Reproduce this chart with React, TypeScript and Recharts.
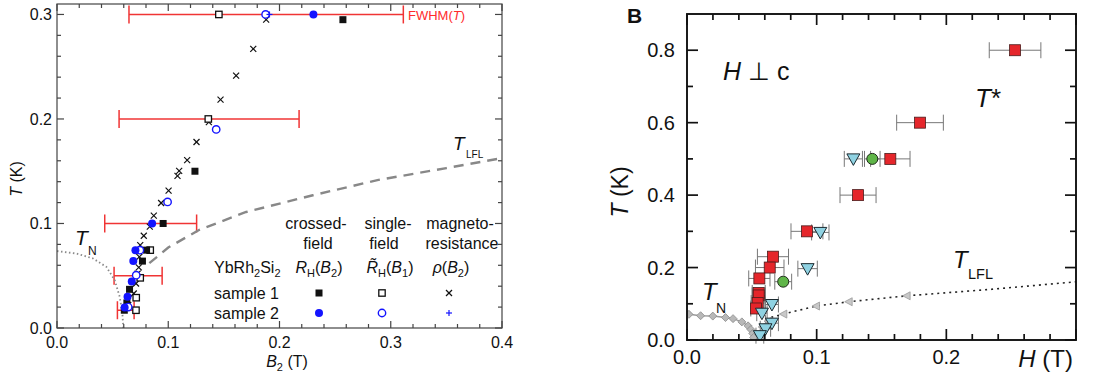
import React from "react";
import { ScatterChart, Scatter, XAxis, YAxis, ErrorBar } from "recharts";

const FONT = "'Liberation Sans', Arial, Helvetica, sans-serif";

// ---- panel A : [B2 (T), T (K)] ----
const rhB2Sample1 = [
  [0.257, 0.295], [0.124, 0.15], [0.0954, 0.1], [0.0805, 0.0745], [0.0768, 0.064],
  [0.0652, 0.037], [0.0628, 0.024], [0.0605, 0.017],
];
const rhB1Sample1 = [
  [0.1455, 0.3], [0.136, 0.2], [0.0838, 0.0745], [0.0748, 0.048], [0.0712, 0.029], [0.071, 0.017],
];
const rhoSample1 = [
  [0.188, 0.295], [0.1764, 0.267], [0.161, 0.2415], [0.147, 0.2185], [0.1365, 0.197],
  [0.1254, 0.178], [0.117, 0.1606], [0.1098, 0.1503], [0.1083, 0.1455], [0.1003, 0.1315],
  [0.0936, 0.1196], [0.087, 0.1075], [0.0834, 0.097], [0.078, 0.0883], [0.0748, 0.0793],
  [0.074, 0.068], [0.0735, 0.058], [0.0725, 0.052], [0.071, 0.0426], [0.069, 0.033], [0.064, 0.022],
];
const rhB2Sample2 = [
  [0.2305, 0.3], [0.0855, 0.1], [0.0705, 0.0745], [0.0686, 0.064], [0.0672, 0.0445],
  [0.0634, 0.03], [0.0608, 0.0195],
];
const rhB1Sample2 = [
  [0.1875, 0.3], [0.1431, 0.19], [0.0994, 0.1206], [0.0745, 0.0745], [0.0712, 0.0505], [0.064, 0.02],
];
const rhoSample2 = [[0.191, 0.3]];
// [centre, T, half width]
const fwhm = [
  [0.188, 0.3, 0.1233], [0.1367, 0.2, 0.0809], [0.0842, 0.1, 0.0413], [0.0729, 0.05, 0.0216], [0.0618, 0.017, 0.0075],
];
const tlflA = [
  [0.083, 0.062], [0.1, 0.077], [0.128, 0.094], [0.17, 0.111], [0.23, 0.127],
  [0.288, 0.1415], [0.35, 0.153], [0.4, 0.1625],
];
const tnA = [
  [0, 0.0736], [0.0174, 0.0713], [0.0324, 0.0665], [0.0444, 0.0585], [0.0519, 0.0457],
  [0.0564, 0.0297], [0.0588, 0.0138], [0.0596, 0],
];
const ticksAx = [0, 0.02, 0.04, 0.06, 0.08, 0.1, 0.12, 0.14, 0.16, 0.18, 0.2, 0.22, 0.24, 0.26, 0.28, 0.3, 0.32, 0.34, 0.36, 0.38, 0.4];
const ticksAy = [0, 0.02, 0.04, 0.06, 0.08, 0.1, 0.12, 0.14, 0.16, 0.18, 0.2, 0.22, 0.24, 0.26, 0.28, 0.3];

// ---- panel B : [H (T), T (K), error] ----
const tStarSquares = [
  [0.253, 0.8, 0.0199], [0.1797, 0.6, 0.018], [0.1568, 0.5, 0.0152], [0.1319, 0.4, 0.0139],
  [0.0925, 0.3, 0.0123], [0.0663, 0.23, 0.012], [0.0638, 0.2, 0.011], [0.0558, 0.17, 0.0082],
  [0.0553, 0.13, 0.005], [0.0553, 0.123, 0.005], [0.0545, 0.102, 0.005], [0.0532, 0.087, 0.004],
];
const tStarTriangles = [
  [0.1283, 0.5, 0.007], [0.1028, 0.297, 0.0067], [0.093, 0.197, 0.0075], [0.0655, 0.098, 0.005],
  [0.0578, 0.074, 0.004], [0.0655, 0.0465, 0.005], [0.0605, 0.031, 0.004], [0.0562, 0.012, 0.003],
];
const tStarCircles = [[0.1429, 0.5, 0.006], [0.0742, 0.161, 0.0065]];
const tnDiamonds = [
  [0.0015, 0.071], [0.0105, 0.067], [0.0199, 0.066], [0.0297, 0.062], [0.0355, 0.059],
  [0.0423, 0.05], [0.0471, 0.039], [0.0493, 0.029], [0.0507, 0.018], [0.0514, 0.007],
];
const tlflTriangles = [[0.1694, 0.122], [0.1247, 0.1056], [0.0995, 0.0937], [0.0743, 0.0716], [0.0625, 0.052], [0.058, 0.036]];
const tlflB = [[0.065, 0.063], [0.0743, 0.0716], [0.0995, 0.0937], [0.1247, 0.1056], [0.1694, 0.122], [0.235, 0.14], [0.3, 0.1607]];
const ticksBx = [0, 0.02, 0.04, 0.06, 0.08, 0.1, 0.12, 0.14, 0.16, 0.18, 0.2, 0.22, 0.24, 0.26, 0.28, 0.3];
const ticksBy = [0, 0.1, 0.2, 0.3, 0.4, 0.5, 0.6, 0.7, 0.8];

const pts = (a: number[][]) => a.map(([x, y, e]) => ({ x, y, e: e ?? 0 }));

const isMajor = (v: number, step: number) => Math.abs(v / step - Math.round(v / step)) < 1e-6;

// plot boxes, in each chart's own svg coords
const A = { l: 57, r: 502, t: 4, b: 328 };
const B = { l: 127, r: 516, t: 14, b: 340 };

function yTick(box: any, step: number, maj: number, min: number, fs: number, gap: number, col: string, sw: number) {
  return (p: any) => {
    const v = p.payload.value;
    const m = isMajor(v, step);
    const len = m ? maj : min;
    return (
      <g>
        <line x1={box.l} x2={box.l + len} y1={p.y} y2={p.y} stroke={col} strokeWidth={sw} />
        <line x1={box.r - len} x2={box.r} y1={p.y} y2={p.y} stroke={col} strokeWidth={sw} />
        {m && (
          <text x={box.l - gap} y={p.y} dy="0.36em" textAnchor="end" fontSize={fs} fill="#111" fontFamily={FONT}>
            {v.toFixed(1)}
          </text>
        )}
      </g>
    );
  };
}

function xTick(box: any, step: number, maj: number, min: number, fs: number, gap: number, col: string, sw: number, maxLabel: number) {
  return (p: any) => {
    const v = p.payload.value;
    const m = isMajor(v, step);
    const len = m ? maj : min;
    return (
      <g>
        <line x1={p.x} x2={p.x} y1={box.b} y2={box.b - len} stroke={col} strokeWidth={sw} />
        <line x1={p.x} x2={p.x} y1={box.t} y2={box.t + len} stroke={col} strokeWidth={sw} />
        {m && v <= maxLabel + 1e-9 && (
          <text x={p.x} y={box.b + gap} dy="0.36em" textAnchor="middle" fontSize={fs} fill="#111" fontFamily={FONT}>
            {v.toFixed(1)}
          </text>
        )}
      </g>
    );
  };
}

const none = () => <g />;
const blackSquare = (p: any) => <rect x={p.cx - 3.5} y={p.cy - 3.5} width={7} height={7} fill="#111" />;
const openSquare = (p: any) => <rect x={p.cx - 3.2} y={p.cy - 3.2} width={6.4} height={6.4} fill="#fff" stroke="#111" strokeWidth={1.3} />;
const cross = (p: any) => (
  <g stroke="#111" strokeWidth={1.2}>
    <line x1={p.cx - 3} y1={p.cy - 3} x2={p.cx + 3} y2={p.cy + 3} />
    <line x1={p.cx - 3} y1={p.cy + 3} x2={p.cx + 3} y2={p.cy - 3} />
  </g>
);
const blueDot = (p: any) => <circle cx={p.cx} cy={p.cy} r={4} fill="#1414ff" />;
const blueRing = (p: any) => <circle cx={p.cx} cy={p.cy} r={3.7} fill="#fff" stroke="#1414ff" strokeWidth={1.4} />;
const bluePlus = (p: any) => (
  <g stroke="#1414ff" strokeWidth={1.2}>
    <line x1={p.cx - 3} y1={p.cy} x2={p.cx + 3} y2={p.cy} />
    <line x1={p.cx} y1={p.cy - 3} x2={p.cx} y2={p.cy + 3} />
  </g>
);

const redSquare = (p: any) => <rect x={p.cx - 5.5} y={p.cy - 5.5} width={11} height={11} fill="#e5262b" stroke="#4a1c1c" strokeWidth={0.8} />;
const cyanTri = (p: any) => (
  <path d={`M${p.cx - 6.5},${p.cy - 5} L${p.cx + 6.5},${p.cy - 5} L${p.cx},${p.cy + 6.5} Z`} fill="#8fd2e2" stroke="#1b2a30" strokeWidth={1} />
);
const greenDot = (p: any) => <circle cx={p.cx} cy={p.cy} r={5.5} fill="#5fb548" stroke="#1e2a1a" strokeWidth={1} />;
const diamond = (p: any) => (
  <path d={`M${p.cx},${p.cy - 4} L${p.cx + 4},${p.cy} L${p.cx},${p.cy + 4} L${p.cx - 4},${p.cy} Z`} fill="#b8b8b8" stroke="#8a8a8a" strokeWidth={0.8} />
);
const leftTri = (p: any) => (
  <path d={`M${p.cx - 4},${p.cy} L${p.cx + 3.5},${p.cy - 4} L${p.cx + 3.5},${p.cy + 4} Z`} fill="#c8c8c8" stroke="#999" strokeWidth={0.8} />
);

function PanelA() {
  return (
    <ScatterChart width={545} height={379} margin={{ top: 4, right: 43, bottom: 0, left: 0 }}>
      <XAxis type="number" dataKey="x" domain={[0, 0.4]} ticks={ticksAx} interval={0} allowDataOverflow
        tick={xTick(A, 0.1, 7, 4, 16, 14, "#444", 1.2, 0.4)} tickLine={false} axisLine={false} height={51} />
      <YAxis type="number" dataKey="y" domain={[0, 0.31]} ticks={ticksAy} interval={0} allowDataOverflow
        tick={yTick(A, 0.1, 7, 4, 16, 5, "#444", 1.2)} tickLine={false} axisLine={false} width={57} />
      <Scatter data={pts(tnA)} shape={none} line={{ stroke: "#8a8a8a", strokeWidth: 1.8, strokeDasharray: "1.5 2.5" }} lineType="joint" isAnimationActive={false} />
      <Scatter data={pts(tlflA)} shape={none} line={{ stroke: "#888", strokeWidth: 2.4, strokeDasharray: "10 7" }} lineType="joint" isAnimationActive={false} />
      <Scatter data={pts(fwhm)} shape={none} isAnimationActive={false}>
        <ErrorBar dataKey="e" direction="x" width={9} stroke="#f03434" strokeWidth={1.5} />
      </Scatter>
      <Scatter data={pts(rhoSample1)} shape={cross} isAnimationActive={false} />
      <Scatter data={pts(rhB1Sample1)} shape={openSquare} isAnimationActive={false} />
      <Scatter data={pts(rhB2Sample1)} shape={blackSquare} isAnimationActive={false} />
      <Scatter data={pts(rhB1Sample2)} shape={blueRing} isAnimationActive={false} />
      <Scatter data={pts(rhB2Sample2)} shape={blueDot} isAnimationActive={false} />
      <Scatter data={pts(rhoSample2)} shape={bluePlus} isAnimationActive={false} />
    </ScatterChart>
  );
}

function PanelB() {
  return (
    <ScatterChart width={539} height={379} margin={{ top: 14, right: 23, bottom: 0, left: 0 }}>
      <XAxis type="number" dataKey="x" domain={[0, 0.3]} ticks={ticksBx} interval={0} allowDataOverflow
        tick={xTick(B, 0.1, 11, 6, 20, 17, "#111", 1.7, 0.2)} tickLine={false} axisLine={false} height={39} />
      <YAxis type="number" dataKey="y" domain={[0, 0.9]} ticks={ticksBy} interval={0} allowDataOverflow
        tick={yTick(B, 0.2, 11, 6, 20, 12, "#111", 1.7)} tickLine={false} axisLine={false} width={127} />
      <Scatter data={pts(tnDiamonds)} shape={diamond} line={{ stroke: "#9a9a9a", strokeWidth: 1.5 }} lineType="joint" isAnimationActive={false} />
      <Scatter data={pts(tlflB)} shape={none} line={{ stroke: "#222", strokeWidth: 1.6, strokeDasharray: "2 4" }} lineType="joint" isAnimationActive={false} />
      <Scatter data={pts(tlflTriangles)} shape={leftTri} isAnimationActive={false} />
      <Scatter data={pts(tStarSquares)} shape={redSquare} isAnimationActive={false}>
        <ErrorBar dataKey="e" direction="x" width={8} stroke="#777" strokeWidth={1} />
      </Scatter>
      <Scatter data={pts(tStarCircles)} shape={greenDot} isAnimationActive={false}>
        <ErrorBar dataKey="e" direction="x" width={8} stroke="#777" strokeWidth={1} />
      </Scatter>
      <Scatter data={pts(tStarTriangles)} shape={cyanTri} isAnimationActive={false}>
        <ErrorBar dataKey="e" direction="x" width={8} stroke="#777" strokeWidth={1} />
      </Scatter>
    </ScatterChart>
  );
}

function Overlay() {
  const it = { fontStyle: "italic" as const };
  return (
    <svg width={1099} height={379} style={{ position: "absolute", left: 0, top: 0, pointerEvents: "none" }} fontFamily={FONT}>
      {/* panel A frame and labels */}
      <rect x={A.l} y={A.t} width={A.r - A.l} height={A.b - A.t} fill="none" stroke="#444" strokeWidth={1.2} />
      <text transform="translate(22,179) rotate(-90)" textAnchor="middle" fontSize={16} fill="#111">
        <tspan {...it}>T</tspan> (K)
      </text>
      <text x={287} y={367} textAnchor="middle" fontSize={16} fill="#111">
        <tspan {...it}>B</tspan><tspan fontSize={11} dy={4}>2</tspan><tspan dy={-4}> (T)</tspan>
      </text>
      <text x={75} y={245} fontSize={21} fill="#111" {...it}>T</text>
      <text x={88} y={255} fontSize={12} fill="#111">N</text>
      <text x={453} y={150} fontSize={19} fill="#111" {...it}>T</text>
      <text x={466} y={158} fontSize={10} fill="#111">LFL</text>
      <text x={408} y={20} fontSize={13} fill="#ff2b2b">FWHM(<tspan {...it}>T</tspan>)</text>

      <g fontSize={16} fill="#111" textAnchor="middle">
        <text x={316} y={229}>crossed-</text>
        <text x={318} y={249}>field</text>
        <text x={388} y={229}>single-</text>
        <text x={384} y={249}>field</text>
        <text x={460} y={229}>magneto-</text>
        <text x={462} y={249}>resistance</text>
        <text x={319} y={273}>
          <tspan {...it}>R</tspan><tspan fontSize={11} dy={4}>H</tspan><tspan dy={-4}>(</tspan><tspan {...it}>B</tspan><tspan fontSize={11} dy={4}>2</tspan><tspan dy={-4}>)</tspan>
        </text>
        <text x={390} y={273}>
          <tspan {...it}>{"R\u0303"}</tspan><tspan fontSize={11} dy={4}>H</tspan><tspan dy={-4}>(</tspan><tspan {...it}>B</tspan><tspan fontSize={11} dy={4}>1</tspan><tspan dy={-4}>)</tspan>
        </text>
        <text x={451} y={273}>
          <tspan {...it}>ρ</tspan>(<tspan {...it}>B</tspan><tspan fontSize={11} dy={4}>2</tspan><tspan dy={-4}>)</tspan>
        </text>
      </g>
      <g fontSize={16} fill="#111">
        <text x={214} y={273}>YbRh<tspan fontSize={11} dy={4}>2</tspan><tspan dy={-4}>Si</tspan><tspan fontSize={11} dy={4}>2</tspan></text>
        <text x={214} y={299}>sample 1</text>
        <text x={214} y={319}>sample 2</text>
      </g>
      {blackSquare({ cx: 319, cy: 293 })}
      {openSquare({ cx: 382, cy: 293 })}
      {cross({ cx: 449, cy: 293 })}
      {blueDot({ cx: 319, cy: 313 })}
      {blueRing({ cx: 382, cy: 313 })}
      {bluePlus({ cx: 449, cy: 313 })}

      {/* panel B frame and labels */}
      <rect x={560 + B.l} y={B.t} width={B.r - B.l} height={B.b - B.t} fill="none" stroke="#111" strokeWidth={1.9} />
      <text x={627} y={23} fontSize={21} fontWeight="bold" fill="#111">B</text>
      <text transform="translate(628,192) rotate(-90)" textAnchor="middle" fontSize={23} fill="#111">
        <tspan {...it}>T</tspan> (K)
      </text>
      <text x={1073} y={367} textAnchor="end" fontSize={24} fill="#111">
        <tspan {...it}>H</tspan> (T)
      </text>
      <text x={723} y={80} fontSize={25} fill="#111"><tspan {...it}>H</tspan> ⊥ c</text>
      <text x={975} y={107} fontSize={26} fill="#111"><tspan {...it}>T</tspan>*</text>
      <text x={953} y={268} fontSize={24} fill="#111" {...it}>T</text>
      <text x={968} y={279} fontSize={14.5} fill="#111">LFL</text>
      <text x={702} y={300} fontSize={24} fill="#111" {...it}>T</text>
      <text x={716} y={313} fontSize={14} fill="#111">N</text>
    </svg>
  );
}

export default function App() {
  return (
    <div style={{ position: "absolute", left: 0, top: 0, width: 1099, height: 379, background: "#fff", fontFamily: FONT }}>
      <div style={{ position: "absolute", left: 0, top: 0 }}>
        <PanelA />
      </div>
      <div style={{ position: "absolute", left: 560, top: 0 }}>
        <PanelB />
      </div>
      <Overlay />
    </div>
  );
}
